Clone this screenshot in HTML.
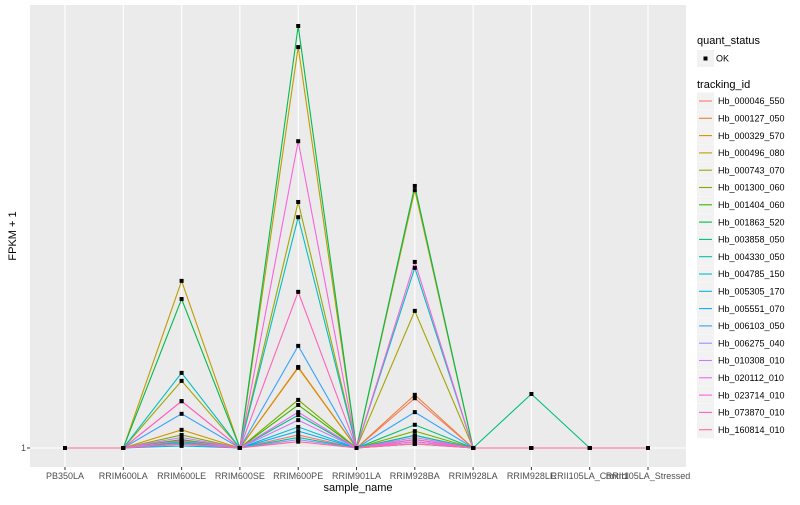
<!DOCTYPE html>
<html><head><meta charset="utf-8"><style>
body{margin:0;background:#fff;font-family:"Liberation Sans",sans-serif}
svg text{font-family:"Liberation Sans",sans-serif}
</style></head><body>
<svg id="chart" width="800" height="500" xmlns="http://www.w3.org/2000/svg">
<rect width="800" height="500" fill="#fff"/>
<rect x="30" y="5" width="656" height="462" fill="#EBEBEB"/>
<g id="grid"></g><g id="lines"></g><g id="points"></g><g id="xaxis"></g>
<text x="26" y="451" font-size="9" fill="#4D4D4D" text-anchor="end">1</text>
<line x1="27" y1="448" x2="30" y2="448" stroke="#333" stroke-width="1"/>
<text transform="translate(16,236) rotate(-90)" font-size="11" text-anchor="middle" fill="#000">FPKM + 1</text>
<text x="358" y="491" font-size="11" text-anchor="middle" fill="#000">sample_name</text>
<g id="legend">
<text x="697" y="44" font-size="11">quant_status</text>
<rect x="697" y="50" width="17" height="17" fill="#F2F2F2"/>
<rect x="703.5" y="56.5" width="4" height="4" fill="#000"/>
<text x="716" y="61.5" font-size="9">OK</text>
<text x="697" y="88" font-size="11">tracking_id</text>
</g>
</svg>
<script>
const categories=["PB350LA","RRIM600LA","RRIM600LE","RRIM600SE","RRIM600PE","RRIM901LA","RRIM928BA","RRIM928LA","RRIM928LE","RRII105LA_Control","RRII105LA_Stressed"];
const seriesNames=["Hb_000046_550","Hb_000127_050","Hb_000329_570","Hb_000496_080","Hb_000743_070","Hb_001300_060","Hb_001404_060","Hb_001863_520","Hb_003858_050","Hb_004330_050","Hb_004785_150","Hb_005305_170","Hb_005551_070","Hb_006103_050","Hb_006275_040","Hb_010308_010","Hb_020112_010","Hb_023714_010","Hb_073870_010","Hb_160814_010"];
const colors=["#F8766D","#EA8331","#D89000","#C09B00","#A3A500","#7CAE00","#39B600","#00BB4E","#00BF7D","#00C1A3","#00BFC4","#00BAE0","#00B0F6","#35A2FF","#9590FF","#C77CFF","#E76BF3","#FA62DB","#FF62BC","#FF6C91"];
const peakLE=[1.9,2.9,5.3,40.6,16.9,4.1,3.0,36.3,2.5,2.0,18.8,2.2,1.5,9.1,2.0,3.5,2.7,12.1,12.1,2.0];
const peakPE=[4.1,20.2,20.0,96.0,59.3,12.4,11.2,101.0,8.8,3.5,55.7,6.0,5.0,25.2,3.0,7.6,9.5,73.7,38.0,2.5];
const peakBA=[12.8,13.6,2.5,62.1,33.5,5.0,4.0,63.1,6.5,4.0,43.7,3.0,2.0,9.5,2.0,3.5,2.5,45.1,3.0,2.0];
const peakLE928=[1,1,1,1,1,1,1,1,13.8,1,1,1,1,1,1,1,1,1,1,1];
const yTicks=[1];
const NS="http://www.w3.org/2000/svg";
function mk(t,a,p){const e=document.createElementNS(NS,t);for(const k in a)e.setAttribute(k,a[k]);p.appendChild(e);return e;}
const xS=i=>65+i*58.3;
const yS=v=>448-(v-1)*4.22;
function vals(s){return [1,1,peakLE[s],1,peakPE[s],1,peakBA[s],1,peakLE928[s],1,1];}
const grid=document.getElementById('grid');
categories.forEach((c,i)=>{const l=mk('line',{x1:xS(i),x2:xS(i),y1:5,y2:467,stroke:'#fff','stroke-width':1.1},grid);

});
yTicks.forEach(v=>{const l=mk('line',{x1:30,x2:686,y1:yS(v),y2:yS(v),stroke:'#fff','stroke-width':1.1},grid);

});
const lines=document.getElementById('lines'),pts=document.getElementById('points'),xa=document.getElementById('xaxis'),lg=document.getElementById('legend');
seriesNames.forEach((n,s)=>{const v=vals(s);
const p=mk('polyline',{points:v.map((d,i)=>xS(i)+','+yS(d)).join(' '),fill:'none',stroke:colors[s],'stroke-width':1.1},lines);


v.forEach((d,i)=>{const r=mk('rect',{x:xS(i)-2,y:yS(d)-2,width:4,height:4,fill:'#000'},pts);

});
const y=101+s*17.3;
mk('rect',{x:697,y:y-8.5,width:17,height:17,fill:'#F2F2F2'},lg);
mk('line',{x1:699,x2:712,y1:y,y2:y,stroke:colors[s],'stroke-width':1.1},lg);
const t=mk('text',{x:718,y:y+3.2,'font-size':9},lg);t.textContent=n;

});
categories.forEach((c,i)=>{mk('line',{x1:xS(i),x2:xS(i),y1:467,y2:470,stroke:'#333'},xa);
const t=mk('text',{x:xS(i),y:479,'font-size':9,fill:'#4D4D4D','text-anchor':'middle'},xa);t.textContent=c;

});
</script>
</body></html>
